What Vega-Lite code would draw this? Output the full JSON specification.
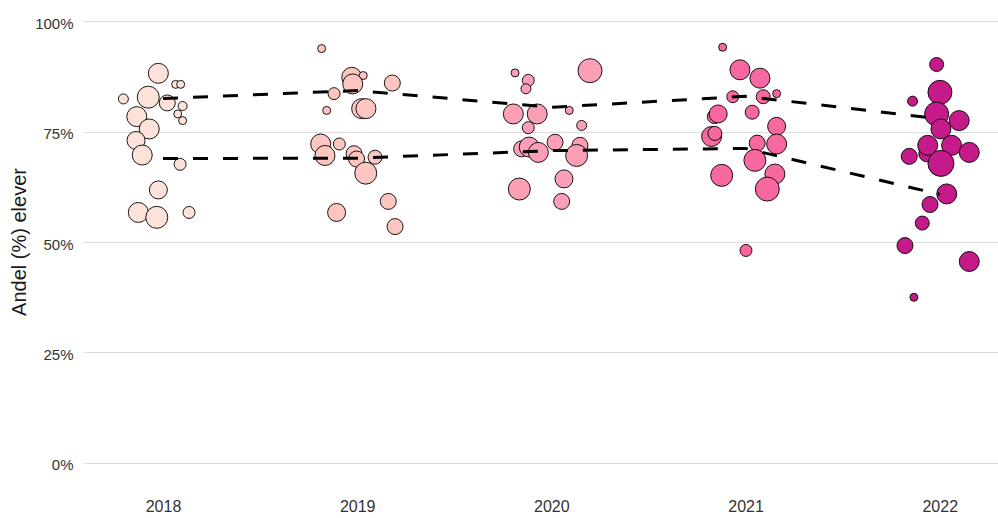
{
  "$schema": "https://vega.github.io/schema/vega-lite/v6.json",
  "width": 915,
  "height": 485,
  "autosize": {"type": "none"},
  "padding": {"left": 83, "top": 0, "right": 0, "bottom": 33},
  "background": "white",
  "config": {"view": {"stroke": null}, "font": "Liberation Sans"},
  "datasets": {
    "points": [
      {"aar": "2018", "pos": 2017.976, "andel": 88.2, "n": 400},
      {"aar": "2018", "pos": 2018.065, "andel": 85.7, "n": 64},
      {"aar": "2018", "pos": 2018.091, "andel": 85.7, "n": 64},
      {"aar": "2018", "pos": 2017.796, "andel": 82.4, "n": 100},
      {"aar": "2018", "pos": 2018.022, "andel": 81.5, "n": 256},
      {"aar": "2018", "pos": 2018.101, "andel": 80.8, "n": 81},
      {"aar": "2018", "pos": 2017.865, "andel": 78.4, "n": 400},
      {"aar": "2018", "pos": 2017.924, "andel": 82.8, "n": 484},
      {"aar": "2018", "pos": 2018.076, "andel": 79.0, "n": 64},
      {"aar": "2018", "pos": 2018.101, "andel": 77.5, "n": 64},
      {"aar": "2018", "pos": 2017.929, "andel": 75.6, "n": 400},
      {"aar": "2018", "pos": 2017.861, "andel": 73.0, "n": 324},
      {"aar": "2018", "pos": 2017.893, "andel": 69.7, "n": 400},
      {"aar": "2018", "pos": 2018.088, "andel": 67.6, "n": 144},
      {"aar": "2018", "pos": 2017.976, "andel": 61.8, "n": 324},
      {"aar": "2018", "pos": 2017.873, "andel": 56.7, "n": 400},
      {"aar": "2018", "pos": 2017.968, "andel": 55.6, "n": 484},
      {"aar": "2018", "pos": 2018.134, "andel": 56.7, "n": 144},
      {"aar": "2019", "pos": 2018.817, "andel": 93.8, "n": 64},
      {"aar": "2019", "pos": 2018.972, "andel": 87.3, "n": 400},
      {"aar": "2019", "pos": 2019.031, "andel": 87.7, "n": 64},
      {"aar": "2019", "pos": 2018.977, "andel": 85.8, "n": 400},
      {"aar": "2019", "pos": 2019.181, "andel": 86.0, "n": 256},
      {"aar": "2019", "pos": 2018.881, "andel": 83.6, "n": 144},
      {"aar": "2019", "pos": 2018.843, "andel": 79.8, "n": 64},
      {"aar": "2019", "pos": 2019.023, "andel": 80.2, "n": 400},
      {"aar": "2019", "pos": 2019.045, "andel": 80.2, "n": 400},
      {"aar": "2019", "pos": 2018.812, "andel": 72.2, "n": 400},
      {"aar": "2019", "pos": 2018.908, "andel": 72.2, "n": 144},
      {"aar": "2019", "pos": 2018.834, "andel": 69.6, "n": 400},
      {"aar": "2019", "pos": 2018.984, "andel": 70.0, "n": 256},
      {"aar": "2019", "pos": 2018.997, "andel": 68.8, "n": 256},
      {"aar": "2019", "pos": 2019.092, "andel": 69.2, "n": 196},
      {"aar": "2019", "pos": 2019.044, "andel": 65.6, "n": 484},
      {"aar": "2019", "pos": 2019.160, "andel": 59.2, "n": 256},
      {"aar": "2019", "pos": 2018.894, "andel": 56.7, "n": 324},
      {"aar": "2019", "pos": 2019.195, "andel": 53.5, "n": 256},
      {"aar": "2020", "pos": 2019.813, "andel": 88.3, "n": 64},
      {"aar": "2020", "pos": 2019.881, "andel": 86.6, "n": 144},
      {"aar": "2020", "pos": 2019.869, "andel": 84.7, "n": 100},
      {"aar": "2020", "pos": 2020.199, "andel": 88.8, "n": 576},
      {"aar": "2020", "pos": 2019.804, "andel": 79.0, "n": 400},
      {"aar": "2020", "pos": 2019.927, "andel": 79.0, "n": 400},
      {"aar": "2020", "pos": 2020.092, "andel": 79.8, "n": 64},
      {"aar": "2020", "pos": 2020.156, "andel": 76.4, "n": 100},
      {"aar": "2020", "pos": 2019.881, "andel": 75.9, "n": 144},
      {"aar": "2020", "pos": 2019.847, "andel": 71.1, "n": 256},
      {"aar": "2020", "pos": 2019.886, "andel": 71.5, "n": 400},
      {"aar": "2020", "pos": 2019.933, "andel": 70.3, "n": 400},
      {"aar": "2020", "pos": 2020.019, "andel": 72.6, "n": 256},
      {"aar": "2020", "pos": 2020.147, "andel": 71.9, "n": 256},
      {"aar": "2020", "pos": 2020.130, "andel": 69.6, "n": 484},
      {"aar": "2020", "pos": 2019.835, "andel": 62.0, "n": 484},
      {"aar": "2020", "pos": 2020.065, "andel": 64.3, "n": 324},
      {"aar": "2020", "pos": 2020.053, "andel": 59.2, "n": 256},
      {"aar": "2021", "pos": 2020.882, "andel": 94.1, "n": 64},
      {"aar": "2021", "pos": 2020.971, "andel": 89.0, "n": 400},
      {"aar": "2021", "pos": 2021.074, "andel": 87.1, "n": 400},
      {"aar": "2021", "pos": 2020.934, "andel": 82.9, "n": 144},
      {"aar": "2021", "pos": 2021.091, "andel": 82.9, "n": 196},
      {"aar": "2021", "pos": 2021.160, "andel": 83.6, "n": 64},
      {"aar": "2021", "pos": 2020.839, "andel": 78.4, "n": 196},
      {"aar": "2021", "pos": 2020.859, "andel": 79.0, "n": 324},
      {"aar": "2021", "pos": 2021.034, "andel": 79.4, "n": 196},
      {"aar": "2021", "pos": 2021.160, "andel": 76.2, "n": 324},
      {"aar": "2021", "pos": 2020.825, "andel": 73.9, "n": 400},
      {"aar": "2021", "pos": 2020.842, "andel": 74.6, "n": 196},
      {"aar": "2021", "pos": 2021.060, "andel": 72.4, "n": 256},
      {"aar": "2021", "pos": 2021.160, "andel": 72.2, "n": 400},
      {"aar": "2021", "pos": 2021.048, "andel": 68.5, "n": 484},
      {"aar": "2021", "pos": 2020.877, "andel": 65.1, "n": 484},
      {"aar": "2021", "pos": 2021.151, "andel": 65.4, "n": 400},
      {"aar": "2021", "pos": 2021.112, "andel": 62.0, "n": 576},
      {"aar": "2021", "pos": 2021.002, "andel": 48.1, "n": 144},
      {"aar": "2022", "pos": 2021.984, "andel": 90.2, "n": 196},
      {"aar": "2022", "pos": 2021.860, "andel": 81.9, "n": 100},
      {"aar": "2022", "pos": 2022.001, "andel": 83.9, "n": 576},
      {"aar": "2022", "pos": 2021.984, "andel": 79.0, "n": 576},
      {"aar": "2022", "pos": 2022.100, "andel": 77.5, "n": 400},
      {"aar": "2022", "pos": 2022.006, "andel": 75.6, "n": 400},
      {"aar": "2022", "pos": 2021.843, "andel": 69.4, "n": 256},
      {"aar": "2022", "pos": 2021.933, "andel": 70.0, "n": 256},
      {"aar": "2022", "pos": 2021.938, "andel": 71.9, "n": 400},
      {"aar": "2022", "pos": 2022.061, "andel": 71.9, "n": 400},
      {"aar": "2022", "pos": 2022.152, "andel": 70.3, "n": 400},
      {"aar": "2022", "pos": 2022.006, "andel": 67.8, "n": 676},
      {"aar": "2022", "pos": 2022.036, "andel": 60.9, "n": 400},
      {"aar": "2022", "pos": 2021.950, "andel": 58.5, "n": 256},
      {"aar": "2022", "pos": 2021.910, "andel": 54.3, "n": 196},
      {"aar": "2022", "pos": 2021.821, "andel": 49.2, "n": 256},
      {"aar": "2022", "pos": 2022.152, "andel": 45.6, "n": 400},
      {"aar": "2022", "pos": 2021.867, "andel": 37.5, "n": 64}
    ],
    "lines": [
      {"serie": "upper", "pos": 2018, "andel": 82.5},
      {"serie": "upper", "pos": 2019, "andel": 84.3},
      {"serie": "upper", "pos": 2020, "andel": 80.5},
      {"serie": "upper", "pos": 2021, "andel": 83.0},
      {"serie": "upper", "pos": 2022, "andel": 77.9},
      {"serie": "lower", "pos": 2018, "andel": 68.9},
      {"serie": "lower", "pos": 2019, "andel": 69.0},
      {"serie": "lower", "pos": 2020, "andel": 70.7},
      {"serie": "lower", "pos": 2021, "andel": 71.2},
      {"serie": "lower", "pos": 2022, "andel": 60.8}
    ]
  },
  "layer": [
    {
      "data": {"name": "points"},
      "mark": {"type": "circle", "stroke": "black", "strokeWidth": 0.9, "opacity": 1},
      "encoding": {
        "x": {
          "field": "pos", "type": "quantitative",
          "scale": {"domain": [2017.588, 2022.3], "nice": false, "zero": false},
          "axis": {
            "values": [2018, 2019, 2020, 2021, 2022], "format": "d",
            "grid": false, "domain": false, "ticks": false,
            "labelFontSize": 16, "labelColor": "#333333", "labelPadding": 13,
            "labelFont": "Liberation Sans", "title": null
          }
        },
        "y": {
          "field": "andel", "type": "quantitative",
          "scale": {"domain": [-5, 104.8], "nice": false, "zero": false},
          "axis": {
            "values": [0, 25, 50, 75, 100],
            "labelExpr": "datum.value + '%'",
            "grid": true, "gridColor": "#dedede", "gridWidth": 1,
            "domain": false, "ticks": false,
            "labelFontSize": 15, "labelColor": "#333333", "labelPadding": 10,
            "labelFont": "Liberation Sans", "labelOffset": 2,
            "title": "Andel (%) elever",
            "titleFont": "Liberation Sans", "titleFontSize": 20, "titleFontWeight": "normal",
            "titleColor": "#1a1a1a", "titleAngle": 270, "titleAlign": "center",
            "titleBaseline": "middle", "titleX": -64, "titleY": 241.5
          }
        },
        "color": {
          "field": "aar", "type": "nominal",
          "scale": {"domain": ["2018", "2019", "2020", "2021", "2022"],
                    "range": ["#fde2da", "#fcc5c0", "#fa9fb5", "#f768a1", "#c51b8a"]},
          "legend": null
        },
        "size": {
          "field": "n", "type": "quantitative",
          "scale": {"domain": [0, 700], "range": [0, 700]},
          "legend": null
        }
      }
    },
    {
      "data": {"name": "lines"},
      "mark": {"type": "line", "color": "black", "strokeWidth": 3, "strokeDash": [15, 15]},
      "encoding": {
        "x": {"field": "pos", "type": "quantitative"},
        "y": {"field": "andel", "type": "quantitative"},
        "detail": {"field": "serie", "type": "nominal"}
      }
    }
  ]
}
